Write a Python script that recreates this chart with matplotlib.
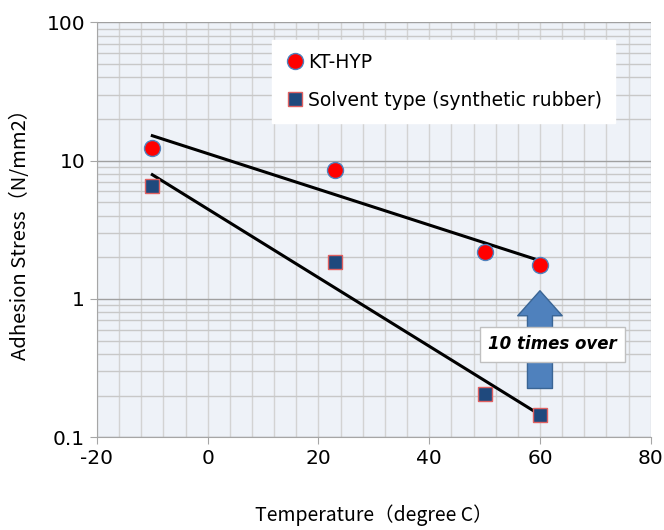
import numpy as np
import matplotlib.pyplot as plt
from matplotlib.ticker import MultipleLocator, LogLocator, FixedLocator, NullFormatter

# Data
temp_kt = [-10, 23, 50, 60]
stress_kt = [12.4, 8.6, 2.2, 1.76]
temp_sol = [-10, 23, 50, 60]
stress_sol = [6.5, 1.85, 0.205, 0.144]

plt.rcParams['axes.unicode_minus'] = False
cjk = ['Noto Sans CJK JP', 'DejaVu Sans']

fig = plt.figure(figsize=(6.64, 5.3), dpi=100)
ax = fig.add_axes([0.146, 0.175, 0.834, 0.783])
ax.set_facecolor('#eef2f8')

ax.set_yscale('log')
ax.set_xlim(-20, 80)
ax.set_ylim(0.1, 100)

# grid
ax.xaxis.set_major_locator(MultipleLocator(20))
ax.xaxis.set_minor_locator(MultipleLocator(4))
ax.yaxis.set_major_locator(FixedLocator([0.1, 1, 10, 100]))
ax.yaxis.set_minor_locator(LogLocator(base=10, subs=np.arange(2, 10)))
ax.yaxis.set_minor_formatter(NullFormatter())
ax.set_yticklabels(['0.1', '1', '10', '100'])
ax.xaxis.grid(which='both', color='#d3d3d3', lw=1.0)
ax.yaxis.grid(which='major', color='#a0a0a0', lw=1.0)
ax.yaxis.grid(which='minor', color='#c8c8c8', lw=1.0)
ax.set_axisbelow(True)
for s in ['top', 'right']:
    ax.spines[s].set_visible(False)
for s in ['left', 'bottom']:
    ax.spines[s].set_color('#a6a6a6')
ax.tick_params(which='major', length=5, color='#a6a6a6', labelsize=14.5)
ax.tick_params(which='minor', length=0)

# exponential trend lines (fit on log values)
xs = np.array([-10, 60])
for tx, sy in [(temp_kt, stress_kt), (temp_sol, stress_sol)]:
    p = np.polyfit(tx, np.log10(sy), 1)
    ax.plot(xs, 10 ** np.polyval(p, xs), color='black', lw=2.2, zorder=3)

ax.plot(temp_kt, stress_kt, 'o', ms=11.5, mfc='#ff0000', mec='#4f81bd', mew=1,
        zorder=4, label='KT-HYP')
ax.plot(temp_sol, stress_sol, 's', ms=9.5, mfc='#1f497d', mec='#e06060', mew=1,
        zorder=4, label='Solvent type (synthetic rubber)')

leg = ax.legend(loc='upper left', bbox_to_anchor=(0.3, 0.98), fontsize=13.5,
                frameon=True, fancybox=False, framealpha=1, edgecolor='white',
                handletextpad=0.2, labelspacing=1.0, borderpad=0.7,
                handlelength=1.0)

# arrow "10 times over"
ax.annotate('', xy=(60, 1.2), xytext=(60, 0.215),
            arrowprops=dict(arrowstyle='simple,head_width=1.6,head_length=0.9,tail_width=0.9',
                            fc='#4f81bd', ec='#3a6595', lw=1, mutation_scale=20),
            zorder=5)
ax.text(62.3, 0.47, '10 times over', ha='center', va='center', fontsize=12,
        fontweight='bold', style='italic', zorder=6,
        bbox=dict(boxstyle='square,pad=0.5', fc='white', ec='#c0c0c0'))

ax.set_xlabel('Temperature（degree C）', family=cjk, fontsize=14, labelpad=26)
ax.set_ylabel('Adhesion Stress（N/mm2）', family=cjk, fontsize=14.5, labelpad=11)

fig.savefig('out.png', dpi=100)
